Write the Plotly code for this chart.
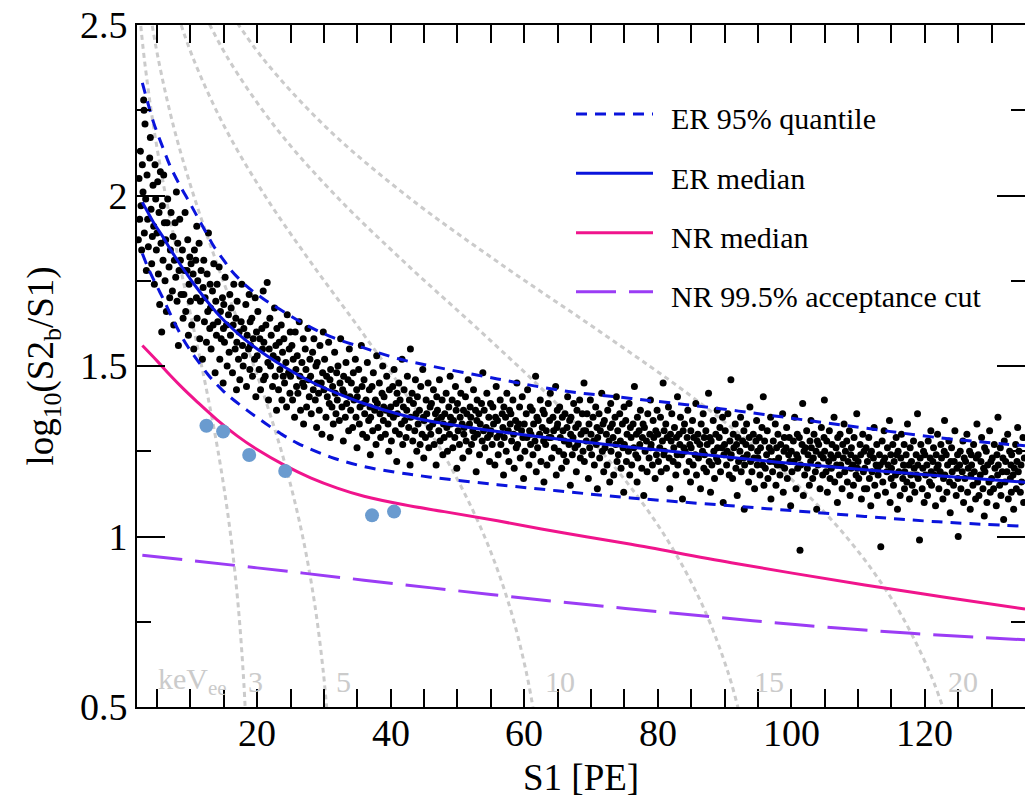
import plotly.graph_objects as go

# ---------------------------------------------------------------------------
# ER calibration events: (S1 [PE], log10(S2b/S1))
# ---------------------------------------------------------------------------
er_events_low = [
    (2.2,1.87),(2.3,2.05),(2.4,1.93),(2.5,2.13),(2.6,1.97),(2.7,1.84),(2.8,2.09),(2.9,2.01),
    (3.0,2.28),(3.05,2.25),(3.1,1.89),(3.2,2.21),(3.3,1.99),(3.4,1.78),(3.5,2.06),(3.6,1.93),(3.7,1.85),(3.9,2.11),
    (4.0,2.17),(4.1,1.96),(4.2,1.80),(4.3,1.88),(4.4,2.03),(4.5,1.91),(4.6,1.74),(4.7,2.09),(4.8,1.99),(4.9,1.84),
    (5.0,1.89),(5.1,2.04),(5.2,1.77),(5.3,1.95),(5.4,1.68),(5.5,2.07),(5.6,1.86),(5.7,1.60),(5.8,1.97),(5.9,1.81),
    (6.0,2.06),(6.1,1.92),(6.2,1.75),(6.3,1.87),(6.4,1.66),(6.5,1.92),(6.6,1.99),(6.8,1.79),(6.9,1.70),
    (7.0,1.84),(7.1,1.95),(7.3,1.72),(7.4,1.88),(7.5,1.62),(7.6,1.81),(7.7,1.92),(7.8,1.76),(7.9,2.01),
    (8.0,1.69),(8.1,1.86),(8.2,1.56),(8.3,1.78),(8.4,1.93),(8.5,1.81),(8.6,1.71),(8.8,1.84),(8.9,1.64),
    (9.0,1.71),(9.1,1.78),(9.2,1.95),(9.3,1.66),(9.5,1.78),(9.6,1.87),(9.7,1.59),(9.8,1.74),(9.9,1.82),
    (10.0,1.69),(10.1,1.80),(10.2,1.62),(10.4,1.77),(10.5,1.55),(10.6,1.84),(10.8,1.81),(10.9,1.70),(10.95,1.91),
    (11.0,1.64),(11.1,1.75),(11.3,1.86),(11.4,1.58),(11.5,1.69),(11.6,1.78),(11.8,1.52),(11.9,1.73),
    (12.0,1.81),(12.1,1.63),(12.2,1.70),(12.4,1.57),(12.5,1.77),(12.6,1.66),(12.7,1.89),(12.9,1.61),(12.95,1.74),
    (13.0,1.67),(13.1,1.55),(13.3,1.72),(13.4,1.62),(13.5,1.80),(13.7,1.48),(13.8,1.69),(13.9,1.59),
    (14.0,1.74),(14.1,1.63),(14.3,1.79),(14.4,1.52),(14.5,1.66),(14.6,1.58),(14.8,1.70),(14.9,1.45),(14.95,1.61),
    (15.0,1.68),(15.1,1.57),(15.2,1.76),(15.4,1.62),(15.5,1.50),(15.7,1.65),(15.8,1.54),(15.9,1.71),
    (16.0,1.59),(16.1,1.67),(16.3,1.48),(16.4,1.62),(16.5,1.74),(16.7,1.55),(16.8,1.64),(16.9,1.43),(16.95,1.57),
    (17.0,1.69),(17.2,1.52),(17.3,1.60),(17.4,1.46),(17.6,1.63),(17.7,1.74),(17.8,1.56),(17.9,1.50),
    (18.0,1.61),(18.1,1.53),(18.3,1.68),(18.4,1.44),(18.5,1.59),(18.7,1.55),(18.8,1.71),(18.9,1.49),(18.95,1.63),
    (19.0,1.56),(19.2,1.64),(19.3,1.47),(19.4,1.58),(19.6,1.52),(19.7,1.70),(19.8,1.41),(19.9,1.60),
    (20.0,1.53),(20.1,1.66),(20.3,1.49),(20.4,1.58),(20.5,1.43),(20.7,1.61),(20.8,1.55),(20.9,1.72),(20.95,1.46),
    (21.0,1.57),(21.2,1.47),(21.3,1.62),(21.5,1.745),(21.6,1.51),(21.7,1.40),(21.8,1.55),(21.9,1.64),
    (22.0,1.50),(22.1,1.59),(22.3,1.44),(22.4,1.53),(22.6,1.67),(22.7,1.47),(22.8,1.56),(22.9,1.37),(22.95,1.61),
    (23.0,1.52),(23.2,1.43),(23.3,1.57),(23.4,1.49),(23.6,1.62),(23.7,1.40),(23.8,1.54),(23.9,1.47),
    (24.0,1.58),(24.1,1.45),(24.3,1.51),(24.4,1.38),(24.5,1.65),(24.7,1.48),(24.8,1.55),(24.9,1.42),(24.95,1.60),
    (25.0,1.47),(25.2,1.56),(25.3,1.40),(25.4,1.52),(25.6,1.35),(25.7,1.60),(25.8,1.49),(25.9,1.44),
    (26.0,1.53),(26.1,1.42),(26.3,1.63),(26.4,1.47),(26.5,1.37),(26.7,1.51),(26.8,1.45),(26.9,1.58),(26.95,1.33),
    (27.0,1.44),(27.2,1.55),(27.3,1.49),(27.4,1.38),(27.6,1.61),(27.7,1.46),(27.8,1.41),(27.9,1.52),
    (28.0,1.47),(28.1,1.36),(28.3,1.54),(28.4,1.43),(28.5,1.58),(28.7,1.40),(28.8,1.50),(28.9,1.32),(28.95,1.45),
    (29.0,1.51),(29.2,1.42),(29.3,1.37),(29.4,1.56),(29.6,1.45),(29.7,1.30),(29.8,1.48),(29.9,1.60),
]

er_events_mid = [
    (30.0,1.43),(30.1,1.52),(30.3,1.35),(30.4,1.47),(30.5,1.41),(30.7,1.57),(30.8,1.39),(30.9,1.46),(30.95,1.29),
    (31.0,1.49),(31.2,1.38),(31.3,1.44),(31.4,1.33),(31.6,1.54),(31.7,1.42),(31.8,1.36),(31.9,1.48),
    (32.0,1.40),(32.1,1.50),(32.3,1.34),(32.4,1.45),(32.5,1.58),(32.7,1.38),(32.8,1.43),(32.9,1.28),(32.95,1.47),
    (33.0,1.42),(33.2,1.35),(33.3,1.51),(33.4,1.39),(33.6,1.46),(33.7,1.31),(33.8,1.55),(33.9,1.41),
    (34.0,1.37),(34.1,1.45),(34.3,1.32),(34.4,1.48),(34.5,1.40),(34.7,1.52),(34.8,1.35),(34.9,1.43),(34.95,1.26),
    (35.0,1.41),(35.2,1.49),(35.3,1.33),(35.4,1.38),(35.6,1.56),(35.7,1.44),(35.8,1.30),(35.9,1.39),
    (36.0,1.46),(36.1,1.36),(36.3,1.40),(36.4,1.29),(36.5,1.51),(36.7,1.34),(36.8,1.43),(36.9,1.38),(36.95,1.24),
    (37.0,1.35),(37.2,1.44),(37.3,1.31),(37.4,1.48),(37.6,1.37),(37.7,1.40),(37.8,1.27),(37.9,1.53),
    (38.0,1.39),(38.1,1.32),(38.3,1.45),(38.4,1.36),(38.5,1.29),(38.7,1.42),(38.8,1.50),(38.9,1.34),(38.95,1.38),
    (39.0,1.41),(39.2,1.30),(39.3,1.37),(39.4,1.47),(39.6,1.33),(39.7,1.25),(39.8,1.43),(39.9,1.36),
    (40.0,1.38),(40.1,1.28),(40.3,1.44),(40.4,1.35),(40.5,1.49),(40.7,1.31),(40.8,1.39),(40.9,1.22),(40.95,1.42),
    (41.0,1.36),(41.2,1.45),(41.3,1.30),(41.4,1.40),(41.6,1.33),(41.7,1.52),(41.8,1.27),(41.9,1.38),
    (42.0,1.43),(42.1,1.34),(42.3,1.29),(42.4,1.37),(42.5,1.47),(42.7,1.32),(42.8,1.40),(42.9,1.21),(42.95,1.55),
    (43.0,1.35),(43.2,1.42),(43.3,1.28),(43.4,1.39),(43.6,1.31),(43.7,1.46),(43.8,1.36),(43.9,1.25),
    (44.0,1.41),(44.1,1.33),(44.3,1.37),(44.4,1.27),(44.5,1.44),(44.7,1.30),(44.8,1.49),(44.9,1.35),(44.95,1.23),
    (45.0,1.34),(45.2,1.29),(45.3,1.40),(45.4,1.36),(45.6,1.45),(45.7,1.26),(45.8,1.32),(45.9,1.38),
    (46.0,1.30),(46.1,1.39),(46.3,1.33),(46.4,1.43),(46.5,1.27),(46.7,1.36),(46.8,1.21),(46.9,1.41),(46.95,1.34),
    (47.0,1.37),(47.2,1.31),(47.3,1.46),(47.4,1.28),(47.6,1.35),(47.7,1.40),(47.8,1.24),(47.9,1.33),
    (48.0,1.29),(48.1,1.36),(48.3,1.42),(48.4,1.32),(48.5,1.25),(48.7,1.38),(48.8,1.30),(48.9,1.47),(48.95,1.35),
    (49.0,1.33),(49.2,1.40),(49.3,1.26),(49.4,1.34),(49.6,1.29),(49.7,1.44),(49.8,1.37),(49.9,1.20),
    (50.0,1.39),(50.1,1.31),(50.3,1.27),(50.4,1.35),(50.5,1.42),(50.7,1.33),(50.8,1.23),(50.9,1.37),(50.95,1.30),
    (51.0,1.32),(51.2,1.41),(51.3,1.28),(51.4,1.36),(51.6,1.46),(51.7,1.25),(51.8,1.33),(51.9,1.38),
    (52.0,1.35),(52.1,1.27),(52.3,1.31),(52.4,1.43),(52.5,1.29),(52.7,1.37),(52.8,1.19),(52.9,1.34),(52.95,1.40),
    (53.0,1.30),(53.2,1.36),(53.3,1.24),(53.4,1.33),(53.6,1.39),(53.7,1.28),(53.8,1.48),(53.9,1.31),
    (54.0,1.37),(54.1,1.26),(54.3,1.32),(54.4,1.42),(54.5,1.29),(54.7,1.35),(54.8,1.22),(54.9,1.30),(54.95,1.39),
    (55.0,1.31),(55.2,1.27),(55.3,1.38),(55.4,1.33),(55.6,1.21),(55.7,1.35),(55.8,1.44),(55.9,1.29),
    (56.0,1.34),(56.1,1.24),(56.3,1.30),(56.4,1.40),(56.5,1.27),(56.7,1.36),(56.8,1.32),(56.9,1.18),(56.95,1.38),
    (57.0,1.29),(57.2,1.35),(57.3,1.25),(57.4,1.42),(57.6,1.31),(57.7,1.22),(57.8,1.37),(57.9,1.33),
    (58.0,1.36),(58.1,1.28),(58.3,1.40),(58.4,1.30),(58.5,1.20),(58.7,1.34),(58.8,1.26),(58.9,1.45),(58.95,1.32),
    (59.0,1.27),(59.2,1.33),(59.3,1.38),(59.4,1.23),(59.6,1.31),(59.7,1.41),(59.8,1.29),(59.9,1.17),
    (60.0,1.33),(60.1,1.25),(60.3,1.36),(60.4,1.29),(60.5,1.43),(60.7,1.21),(60.8,1.31),(60.9,1.38),(60.95,1.27),
    (61.0,1.30),(61.2,1.37),(61.3,1.24),(61.4,1.33),(61.6,1.28),(61.7,1.47),(61.8,1.19),(61.9,1.35),
    (62.0,1.26),(62.1,1.34),(62.3,1.30),(62.4,1.40),(62.5,1.22),(62.7,1.32),(62.8,1.37),(62.9,1.28),(62.95,1.16),
    (63.0,1.36),(63.2,1.27),(63.3,1.31),(63.4,1.21),(63.6,1.39),(63.7,1.29),(63.8,1.34),(63.9,1.42),
    (64.0,1.29),(64.1,1.23),(64.3,1.35),(64.4,1.31),(64.5,1.26),(64.7,1.44),(64.8,1.18),(64.9,1.32),(64.95,1.37),
    (65.0,1.33),(65.2,1.25),(65.3,1.38),(65.4,1.29),(65.6,1.20),(65.7,1.35),(65.8,1.31),(65.9,1.24),
    (66.0,1.28),(66.1,1.36),(66.3,1.22),(66.4,1.32),(66.5,1.41),(66.7,1.27),(66.8,1.34),(66.9,1.15),(66.95,1.30),
    (67.0,1.35),(67.2,1.24),(67.3,1.29),(67.4,1.39),(67.6,1.26),(67.7,1.32),(67.8,1.19),(67.9,1.37),
    (68.0,1.27),(68.1,1.33),(68.3,1.40),(68.4,1.23),(68.5,1.30),(68.7,1.36),(68.8,1.25),(68.9,1.31),(68.95,1.45),
    (69.0,1.22),(69.2,1.31),(69.3,1.28),(69.4,1.36),(69.6,1.17),(69.7,1.33),(69.8,1.26),(69.9,1.40),
    (70.0,1.30),(70.1,1.24),(70.3,1.35),(70.4,1.28),(70.5,1.21),(70.7,1.38),(70.8,1.27),(70.9,1.32),(70.95,1.14),
    (71.0,1.29),(71.2,1.36),(71.3,1.23),(71.4,1.31),(71.6,1.42),(71.7,1.25),(71.8,1.33),(71.9,1.19),
    (72.0,1.34),(72.1,1.26),(72.3,1.30),(72.4,1.21),(72.5,1.37),(72.7,1.28),(72.8,1.16),(72.9,1.32),(72.95,1.39),
    (73.0,1.25),(73.2,1.33),(73.3,1.29),(73.4,1.18),(73.6,1.35),(73.7,1.27),(73.8,1.41),(73.9,1.22),
    (74.0,1.31),(74.1,1.24),(74.3,1.36),(74.4,1.28),(74.5,1.20),(74.7,1.33),(74.8,1.26),(74.9,1.13),(74.95,1.38),
    (75.0,1.27),(75.2,1.34),(75.3,1.22),(75.4,1.30),(75.6,1.25),(75.7,1.39),(75.8,1.18),(75.9,1.32),
    (76.0,1.29),(76.1,1.21),(76.3,1.33),(76.4,1.26),(76.5,1.44),(76.7,1.24),(76.8,1.30),(76.9,1.16),(76.95,1.35),
    (77.0,1.23),(77.2,1.31),(77.3,1.27),(77.4,1.37),(77.6,1.20),(77.7,1.29),(77.8,1.33),(77.9,1.12),
    (78.0,1.32),(78.1,1.25),(78.3,1.28),(78.4,1.19),(78.5,1.36),(78.7,1.23),(78.8,1.30),(78.9,1.40),(78.95,1.26),
    (79.0,1.27),(79.2,1.21),(79.3,1.34),(79.4,1.29),(79.6,1.17),(79.7,1.31),(79.8,1.24),(79.9,1.37),
]

er_events_high = [
    (80.0,1.30),(80.1,1.22),(80.3,1.26),(80.4,1.35),(80.5,1.19),(80.7,1.28),(80.8,1.45),(80.9,1.24),(80.95,1.31),
    (81.0,1.25),(81.2,1.33),(81.3,1.20),(81.4,1.29),(81.6,1.38),(81.7,1.23),(81.8,1.14),(81.9,1.30),
    (82.0,1.28),(82.1,1.36),(82.3,1.22),(82.4,1.26),(82.5,1.32),(82.7,1.18),(82.8,1.29),(82.9,1.24),(82.95,1.41),
    (83.0,1.21),(83.2,1.30),(83.3,1.27),(83.4,1.35),(83.6,1.24),(83.7,1.11),(83.8,1.31),(83.9,1.26),
    (84.0,1.33),(84.1,1.25),(84.3,1.19),(84.4,1.29),(84.5,1.37),(84.7,1.22),(84.8,1.27),(84.9,1.16),(84.95,1.31),
    (85.0,1.26),(85.2,1.34),(85.3,1.21),(85.4,1.29),(85.6,1.24),(85.7,1.39),(85.8,1.18),(85.9,1.28),
    (86.0,1.30),(86.1,1.23),(86.3,1.27),(86.4,1.14),(86.5,1.33),(86.7,1.25),(86.8,1.36),(86.9,1.20),(86.95,1.29),
    (87.0,1.24),(87.2,1.31),(87.3,1.19),(87.4,1.27),(87.6,1.42),(87.7,1.22),(87.8,1.29),(87.9,1.13),
    (88.0,1.28),(88.1,1.21),(88.3,1.34),(88.4,1.25),(88.5,1.17),(88.7,1.30),(88.8,1.23),(88.9,1.37),(88.95,1.26),
    (89.0,1.22),(89.2,1.29),(89.3,1.32),(89.4,1.19),(89.6,1.26),(89.7,1.35),(89.8,1.10),(89.9,1.24),
    (90.0,1.27),(90.1,1.31),(90.3,1.21),(90.4,1.25),(90.5,1.36),(90.7,1.18),(90.8,1.28),(90.9,1.23),(90.95,1.46),
    (91.0,1.24),(91.2,1.17),(91.3,1.30),(91.4,1.26),(91.6,1.33),(91.7,1.20),(91.8,1.27),(91.9,1.12),
    (92.0,1.29),(92.1,1.22),(92.3,1.25),(92.4,1.35),(92.5,1.19),(92.7,1.28),(92.8,1.23),(92.9,1.31),(92.95,1.08),
    (93.0,1.21),(93.2,1.27),(93.3,1.33),(93.4,1.24),(93.6,1.16),(93.7,1.29),(93.8,1.38),(93.9,1.22),
    (94.0,1.26),(94.1,1.19),(94.3,1.30),(94.4,1.23),(94.5,1.14),(94.7,1.28),(94.8,1.34),(94.9,1.21),(94.95,1.25),
    (95.0,1.23),(95.2,1.29),(95.3,1.18),(95.4,1.26),(95.6,1.32),(95.7,1.21),(95.8,1.41),(95.9,1.15),
    (96.0,1.28),(96.1,1.20),(96.3,1.24),(96.4,1.31),(96.5,1.17),(96.7,1.26),(96.8,1.22),(96.9,1.35),(96.95,1.11),
    (97.0,1.25),(97.2,1.19),(97.3,1.28),(97.4,1.22),(97.6,1.33),(97.7,1.15),(97.8,1.26),(97.9,1.21),
    (98.0,1.30),(98.1,1.23),(98.3,1.18),(98.4,1.27),(98.5,1.21),(98.7,1.36),(98.8,1.13),(98.9,1.25),(98.95,1.29),
    (99.0,1.20),(99.2,1.26),(99.3,1.32),(99.4,1.17),(99.6,1.24),(99.7,1.29),(99.8,1.22),(99.9,1.09),
    (100.0,1.25),(100.1,1.19),(100.3,1.28),(100.4,1.22),(100.5,1.35),(100.7,1.14),(100.8,1.24),(100.9,1.30),(100.95,1.20),
    (101.0,1.23),(101.2,1.29),(101.3,0.96),(101.4,1.21),(101.6,1.27),(101.7,1.39),(101.8,1.12),(101.9,1.25),
    (102.0,1.18),(102.1,1.26),(102.3,1.31),(102.4,1.20),(102.5,1.24),(102.7,1.15),(102.8,1.28),(102.9,1.22),(102.95,1.34),
    (103.0,1.26),(103.2,1.17),(103.3,1.23),(103.4,1.30),(103.6,1.19),(103.7,1.25),(103.8,1.08),(103.9,1.28),
    (104.0,1.21),(104.1,1.27),(104.3,1.14),(104.4,1.24),(104.5,1.32),(104.7,1.18),(104.8,1.23),(104.9,1.29),(104.95,1.40),
    (105.0,1.25),(105.2,1.19),(105.3,1.28),(105.4,1.13),(105.6,1.22),(105.7,1.31),(105.8,1.17),(105.9,1.24),
    (106.0,1.20),(106.1,1.27),(106.3,1.23),(106.4,1.35),(106.5,1.16),(106.7,1.26),(106.8,1.21),(106.9,1.10),(106.95,1.29),
    (107.0,1.24),(107.2,1.18),(107.3,1.30),(107.4,1.21),(107.6,1.14),(107.7,1.27),(107.8,1.23),(107.9,1.33),
    (108.0,1.19),(108.1,1.25),(108.3,1.28),(108.4,1.16),(108.5,1.22),(108.7,1.31),(108.8,1.12),(108.9,1.24),(108.95,1.20),
    (109.0,1.26),(109.2,1.21),(109.3,1.15),(109.4,1.29),(109.6,1.23),(109.7,1.18),(109.8,1.36),(109.9,1.20),
    (110.0,1.22),(110.1,1.17),(110.3,1.27),(110.4,1.24),(110.5,1.11),(110.7,1.30),(110.8,1.19),(110.9,1.25),(110.95,1.14),
    (111.0,1.20),(111.2,1.26),(111.3,1.14),(111.4,1.22),(111.6,1.29),(111.7,1.17),(111.8,1.24),(111.9,1.09),
    (112.0,1.25),(112.1,1.19),(112.3,1.23),(112.4,1.32),(112.5,1.15),(112.7,1.21),(112.8,1.27),(112.9,1.12),(112.95,1.20),
    (113.0,1.18),(113.2,1.24),(113.3,1.21),(113.4,0.97),(113.6,1.28),(113.7,1.16),(113.8,1.22),(113.9,1.31),
    (114.0,1.23),(114.1,1.13),(114.3,1.19),(114.4,1.26),(114.5,1.21),(114.7,1.34),(114.8,1.10),(114.9,1.24),(114.95,1.17),
    (115.0,1.20),(115.2,1.27),(115.3,1.15),(115.4,1.22),(115.6,1.18),(115.7,1.29),(115.8,1.24),(115.9,1.08),
    (116.0,1.25),(116.1,1.19),(116.3,1.12),(116.4,1.23),(116.5,1.30),(116.7,1.17),(116.8,1.21),(116.9,1.27),(116.95,1.14),
    (117.0,1.19),(117.2,1.24),(117.3,1.16),(117.4,1.33),(117.6,1.21),(117.7,1.11),(117.8,1.26),(117.9,1.18),
    (118.0,1.22),(118.1,1.15),(118.3,1.28),(118.4,1.20),(118.5,1.13),(118.7,1.24),(118.8,1.18),(118.9,1.36),(118.95,1.21),
    (119.0,1.17),(119.2,0.99),(119.3,1.23),(119.4,1.27),(119.6,1.14),(119.7,1.20),(119.8,1.25),(119.9,1.10),
    (120.0,1.24),(120.1,1.18),(120.3,1.21),(120.4,1.12),(120.5,1.28),(120.7,1.16),(120.8,1.23),(120.9,1.31),(120.95,1.19),
    (121.0,1.15),(121.2,1.22),(121.3,1.26),(121.4,1.18),(121.6,1.09),(121.7,1.24),(121.8,1.20),(121.9,1.30),
    (122.0,1.21),(122.1,1.14),(122.3,1.19),(122.4,1.27),(122.5,1.23),(122.7,1.11),(122.8,1.17),(122.9,1.25),(122.95,1.34),
    (123.0,1.18),(123.2,1.24),(123.3,1.13),(123.4,1.21),(123.6,1.28),(123.7,1.16),(123.8,1.07),(123.9,1.22),
    (124.0,1.26),(124.1,1.19),(124.3,1.15),(124.4,1.22),(124.5,1.31),(124.7,1.12),(124.8,1.20),(124.9,1.24),(124.95,1.17),
    (125.0,1.00),(125.2,1.21),(125.3,1.25),(125.4,1.14),(125.6,1.19),(125.7,1.28),(125.8,1.10),(125.9,1.23),
    (126.0,1.17),(126.1,1.22),(126.3,1.30),(126.4,1.13),(126.5,1.20),(126.7,1.25),(126.8,1.08),(126.9,1.18),(126.95,1.24),
    (127.0,1.21),(127.2,1.15),(127.3,1.27),(127.4,1.19),(127.6,1.11),(127.7,1.23),(127.8,1.33),(127.9,1.16),
    (128.0,1.24),(128.1,1.12),(128.3,1.18),(128.4,1.22),(128.5,1.29),(128.7,1.14),(128.8,1.20),(128.9,1.06),(128.95,1.26),
    (129.0,1.19),(129.2,1.25),(129.3,1.10),(129.4,1.21),(129.6,1.16),(129.7,1.31),(129.8,1.13),(129.9,1.22),
    (130.0,1.17),(130.1,1.23),(130.3,1.14),(130.4,1.27),(130.5,1.20),(130.7,1.09),(130.8,1.24),(130.9,1.18),(130.95,1.35),
    (131.0,1.21),(131.2,1.15),(131.3,1.26),(131.4,1.12),(131.6,1.19),(131.7,1.23),(131.8,1.05),(131.9,1.28),
    (132.0,1.16),(132.1,1.22),(132.3,1.19),(132.4,1.30),(132.5,1.11),(132.7,1.25),(132.8,1.17),(132.9,1.21),(132.95,1.13),
    (133.0,1.24),(133.2,1.18),(133.3,1.08),(133.4,1.20),(133.6,1.27),(133.7,1.14),(133.8,1.22),(133.9,1.32),
    (134.0,1.19),(134.1,1.25),(134.3,1.13),(134.4,1.21),(134.5,1.16),(134.7,1.29),(134.8,1.10),(134.9,1.23),
]

# NR candidate events
nr_s1 = [12.4, 14.9, 18.8, 24.2, 37.2, 40.5]
nr_log = [1.325, 1.308, 1.239, 1.192, 1.062, 1.073]

# ER band: median and 95% quantiles
er_med_s1 = [2.8, 3.5, 4.5, 6, 7, 8.5, 10, 11, 12.5, 14, 16, 18, 20, 23, 26, 29, 32, 36, 41, 46, 51, 56, 66, 76, 86, 98, 111, 122, 135]
er_med = [1.98, 1.955, 1.92, 1.875, 1.842, 1.797, 1.755, 1.728, 1.69, 1.655, 1.615, 1.58, 1.55, 1.51, 1.475, 1.445, 1.42,
          1.39, 1.36, 1.338, 1.322, 1.308, 1.284, 1.262, 1.242, 1.218, 1.196, 1.178, 1.159]

er_hi_s1 = [2.8, 3.5, 4.5, 6, 7, 8.5, 10, 11, 12.5, 13.5, 15, 16, 18.5, 21, 23.5, 27, 31, 36, 41, 46, 56, 66, 76, 88, 100, 111, 122, 135]
er_hi = [2.33, 2.28, 2.213, 2.134, 2.085, 2.027, 1.975, 1.939, 1.886, 1.851, 1.81, 1.783, 1.733, 1.696, 1.665, 1.624, 1.586,
         1.553, 1.522, 1.50, 1.462, 1.427, 1.405, 1.378, 1.347, 1.318, 1.29, 1.266]

er_lo_s1 = [2.8, 3.5, 4, 5, 6, 7, 8, 9.5, 11, 12.5, 13.5, 15, 16, 18.5, 21, 23.5, 26, 31, 36, 41, 46, 56, 66, 76, 89, 100, 111, 122, 135]
er_lo = [1.83, 1.795, 1.773, 1.733, 1.694, 1.652, 1.612, 1.56, 1.518, 1.478, 1.455, 1.425, 1.408, 1.37, 1.335, 1.302, 1.274,
         1.233, 1.205, 1.188, 1.174, 1.152, 1.132, 1.113, 1.093, 1.076, 1.059, 1.043, 1.03]

# NR band: median and 99.5% acceptance cut
nr_med_s1 = [2.8, 5, 7, 9, 11, 14, 17, 20, 24, 28, 32, 36, 42, 48, 56, 66, 76, 91, 111, 123, 135]
nr_med = [1.56, 1.515, 1.472, 1.432, 1.395, 1.342, 1.295, 1.255, 1.21, 1.172, 1.142, 1.118, 1.093, 1.073, 1.046, 1.01,
          0.977, 0.923, 0.858, 0.822, 0.787]

nr_cut_s1 = [2.8, 20, 36, 55, 72, 88, 101, 118, 135]
nr_cut = [0.945, 0.908, 0.872, 0.83, 0.795, 0.765, 0.741, 0.716, 0.697]

# Lines of constant electron-equivalent energy: S1 where each crosses these log10(S2b/S1) levels
kev_levels = [2.55, 2.4, 2.2, 2.0, 1.8, 1.6, 1.4, 1.2, 1.0, 0.8, 0.6, 0.45]
kev3_s1 = [2.31, 3.10, 4.50, 6.28, 8.37, 10.59, 12.72, 14.57, 16.05, 17.14, 17.91, 18.32]
kev5_s1 = [3.85, 5.19, 7.51, 10.49, 13.98, 17.69, 21.25, 24.35, 26.81, 28.63, 29.92, 30.61]
kev10_s1 = [7.77, 10.46, 15.15, 21.15, 28.18, 35.67, 42.85, 49.09, 54.05, 57.73, 60.33, 61.71]
kev15_s1 = [11.65, 15.69, 22.74, 31.74, 42.29, 53.54, 64.32, 73.68, 81.12, 86.65, 90.55, 92.62]
kev20_s1 = [15.54, 20.93, 30.33, 42.33, 56.41, 71.40, 85.78, 98.26, 108.20, 115.57, 120.76, 123.53]
kev_names = ["3", "5", "10", "15", "20"]
kev_label_s1 = [19.7, 32.9, 65.3, 96.6, 125.7]

# bottom axis labels
x_tick_vals = [20, 40, 60, 80, 100, 120]

FONT = "Liberation Serif"
GREY = "#cbcbcb"
BLUE = "#0a14dc"
PINK = "#f0148c"
PURPLE = "#9b3cf5"
NRDOT = "#6a9bcf"

fig = go.Figure()

for s1_vals in [kev3_s1, kev5_s1, kev10_s1, kev15_s1, kev20_s1]:
    fig.add_trace(go.Scatter(
        x=s1_vals, y=kev_levels, mode="lines", line_shape="spline",
        line=dict(color=GREY, width=3, dash="5px,4px"), hoverinfo="skip"))

er_all = er_events_low + er_events_mid + er_events_high
fig.add_trace(go.Scatter(
    x=[p[0] for p in er_all], y=[p[1] for p in er_all], mode="markers",
    marker=dict(color="black", size=7, line=dict(width=0))))

fig.add_trace(go.Scatter(x=er_hi_s1, y=er_hi, mode="lines", line_shape="spline",
                         line=dict(color=BLUE, width=3, dash="11px,8px")))
fig.add_trace(go.Scatter(x=er_lo_s1, y=er_lo, mode="lines", line_shape="spline",
                         line=dict(color=BLUE, width=3, dash="11px,8px")))
fig.add_trace(go.Scatter(x=er_med_s1, y=er_med, mode="lines", line_shape="spline",
                         line=dict(color=BLUE, width=3)))
fig.add_trace(go.Scatter(x=nr_med_s1, y=nr_med, mode="lines", line_shape="spline",
                         line=dict(color=PINK, width=3)))
fig.add_trace(go.Scatter(x=nr_cut_s1, y=nr_cut, mode="lines", line_shape="spline",
                         line=dict(color=PURPLE, width=3, dash="40px,13px")))
# NR events sit on the mirrored right-hand axis (same range), topmost layer
fig.add_trace(go.Scatter(x=nr_s1, y=nr_log, mode="markers", yaxis="y2",
                         marker=dict(color=NRDOT, size=14, line=dict(width=0))))

# pixel helpers for the plot frame
L, T, W, H = 137, 25, 888, 682
def px(xp):
    return (xp - L) / W
def py(yp):
    return (T + H - yp) / H

# energy labels along the bottom
annotations = [dict(x=10.3, y=0.575, xref="x", yref="y", text="keV<sub>ee</sub>", showarrow=False,
                    font=dict(family=FONT, size=30, color=GREY), xanchor="center", yanchor="middle")]
for name, xs in zip(kev_names, kev_label_s1):
    annotations.append(dict(x=xs, y=0.575, xref="x", yref="y", text=name, showarrow=False,
                            font=dict(family=FONT, size=30, color=GREY), xanchor="center", yanchor="middle"))

# S1 axis numbers and title, set close under the frame
for v in x_tick_vals:
    annotations.append(dict(x=v, y=py(732.5), xref="x", yref="paper", text=str(v), showarrow=False,
                            xanchor="center", yanchor="middle",
                            font=dict(family=FONT, size=38, color="black")))
annotations.append(dict(x=0.5, y=py(778), xref="paper", yref="paper", text="S1 [PE]", showarrow=False,
                        xanchor="center", yanchor="middle", font=dict(family=FONT, size=37, color="black")))

# legend block
legend_items = [
    ("ER 95% quantile", BLUE, "11px,8px", 114),
    ("ER median", BLUE, "solid", 173.3),
    ("NR median", PINK, "solid", 232.7),
    ("NR 99.5% acceptance cut", PURPLE, "40px,13px", 291.7),
]
shapes = []
for label, color, dash, yline in legend_items:
    shapes.append(dict(type="line", xref="paper", yref="paper", x0=px(576), x1=px(653),
                       y0=py(yline), y1=py(yline), line=dict(color=color, width=3, dash=dash)))
    annotations.append(dict(x=px(669), y=py(yline + 5), xref="paper", yref="paper", text=label,
                            showarrow=False, xanchor="left", yanchor="middle",
                            font=dict(family=FONT, size=30, color="black")))

x_ticks = dict(ticks="inside", ticklen=18, tickwidth=1.5, tickcolor="black",
               showgrid=False, zeroline=False)
x_minor = dict(ticks="inside", ticklen=9, tickwidth=1.5, tickcolor="black", showgrid=False)
y_ticks = dict(ticks="inside", ticklen=28, tickwidth=1.5, tickcolor="black",
               showgrid=False, zeroline=False)
y_minor = dict(ticks="inside", ticklen=14, tickwidth=1.5, tickcolor="black", showgrid=False)

fig.update_layout(
    width=1025, height=801,
    margin=dict(l=L, r=0, t=T, b=801 - T - H),
    paper_bgcolor="white", plot_bgcolor="white",
    showlegend=False,
    font=dict(family=FONT, color="black"),
    xaxis=dict(range=[2, 135], tickmode="linear", tick0=0, dtick=20,
               showline=True, linewidth=2, linecolor="black", mirror="allticks",
               showticklabels=False,
               minor=dict(dtick=5, tick0=0, **x_minor),
               **x_ticks),
    yaxis=dict(range=[0.5, 2.5], tickmode="linear", tick0=0.5, dtick=0.5,
               showline=True, linewidth=2, linecolor="black", mirror=False,
               tickfont=dict(family=FONT, size=38, color="black"),
               minor=dict(dtick=0.25, tick0=0.5, **y_minor),
               title=dict(text="log<sub>10</sub>(S2<sub>b</sub>/S1)",
                          font=dict(family=FONT, size=37, color="black")),
               **y_ticks),
    yaxis2=dict(range=[0.5, 2.5], autorange=False, overlaying="y", side="right",
                tickmode="linear", tick0=0.5, dtick=0.5,
                showline=False, showticklabels=False,
                minor=dict(dtick=0.25, tick0=0.5, **y_minor),
                **y_ticks),
    shapes=shapes,
    annotations=annotations,
)

fig.write_html("out.html")
